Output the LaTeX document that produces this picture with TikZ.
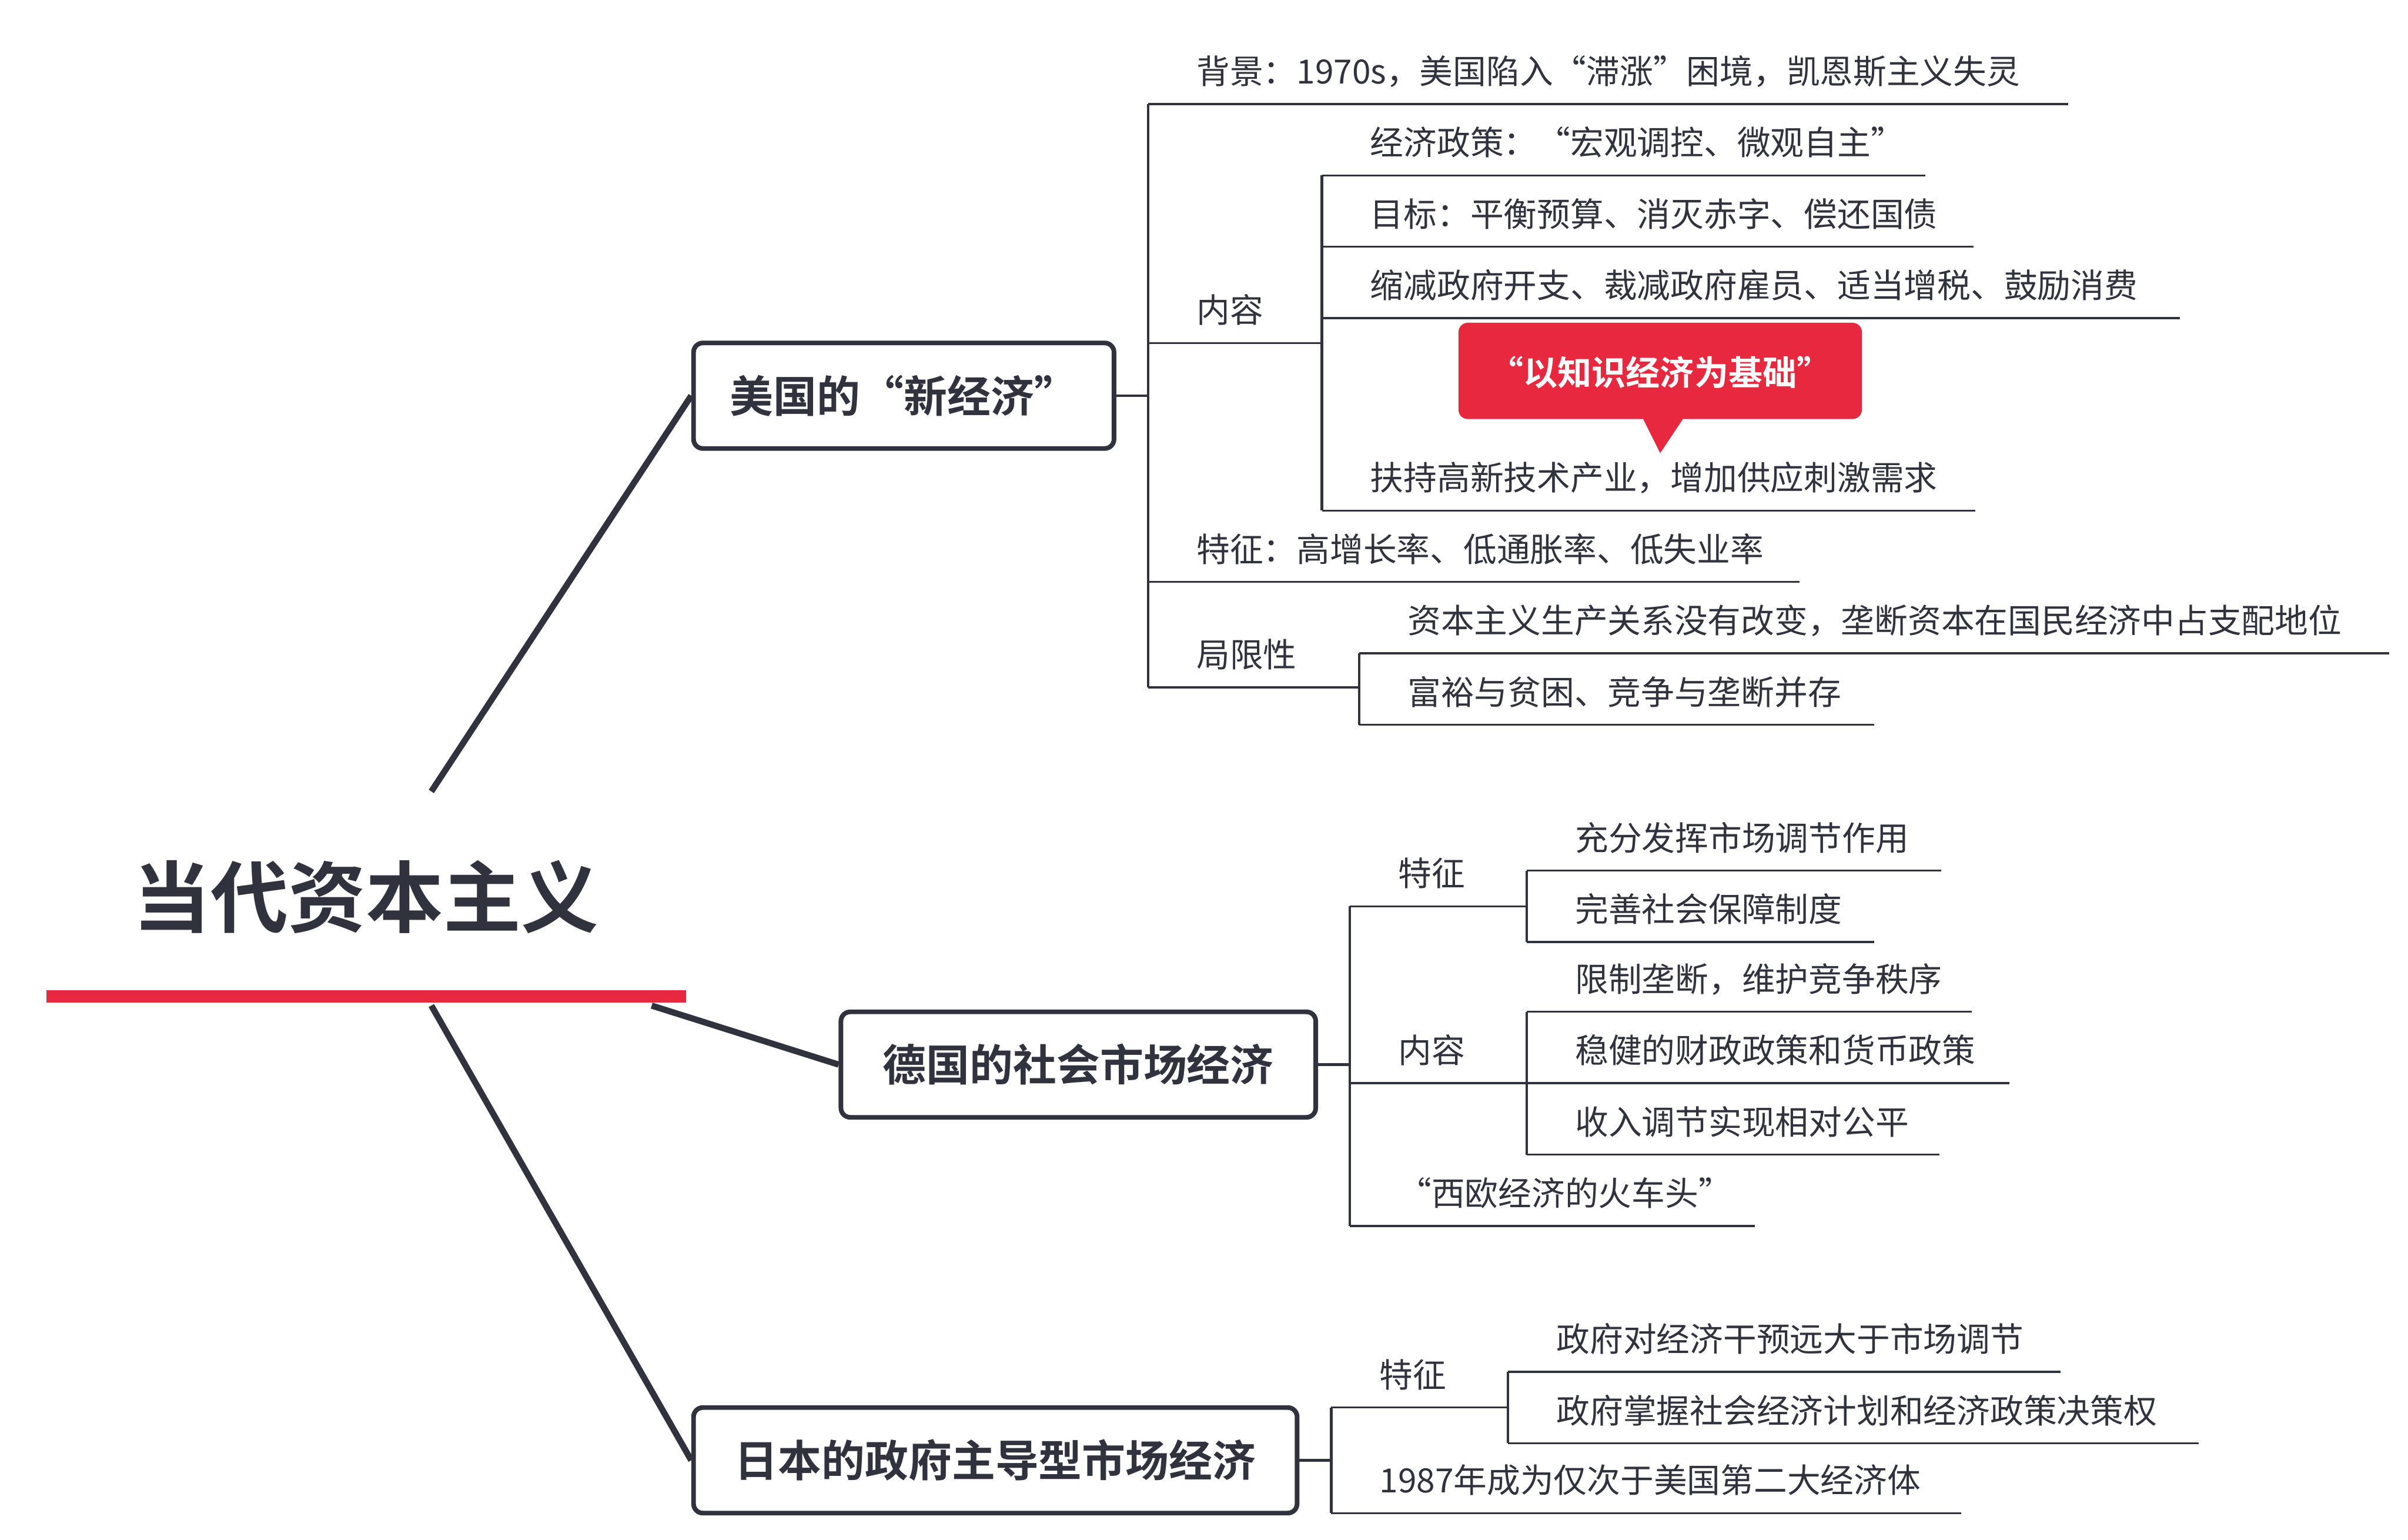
\documentclass[tikz,border=0pt]{standalone}
\usepackage{fontspec}
\setmainfont{Noto Sans CJK SC}
\newfontfamily\cjkb{Noto Sans CJK SC Bold}
\definecolor{ink}{HTML}{30323E}
\definecolor{hot}{HTML}{E8283F}
\tikzset{
 item/.style={anchor=base west,inner sep=0pt,font=\fontsize{21.5}{21.5}\selectfont,text=ink},
 uline/.style={draw=ink,line width=1.3pt},
 trunk/.style={draw=ink,line width=1.6pt,rounded corners=4pt},
 branch/.style={draw=ink,line width=4pt},
 bigbox/.style={draw=ink,line width=3pt,rounded corners=6pt,minimum height=68pt,text=ink,font=\cjkb\fontsize{28}{28}\selectfont}
}
\begin{document}
\begin{tikzpicture}[x=1pt,y=-1pt]
\path[use as bounding box,fill=white] (0,0) rectangle (1552,992);
% root
\node[text=ink,font=\cjkb\fontsize{50}{50}\selectfont] (root) at (236,578) {当代资本主义};
\coordinate (rl) at (30,642); \coordinate (rr) at (442,642);
\draw[hot,line width=8pt] (rl) -- (rr);
% boxes
\node[bigbox,minimum width=271pt] (us) at (582.5,255) {美国的“新经济”};
\node[bigbox,minimum width=306pt] (de) at (695,686) {德国的社会市场经济};
\node[bigbox,minimum width=389pt] (jp) at (641.5,941) {日本的政府主导型市场经济};
\coordinate (b1) at (278,510); \coordinate (b2) at (420,648); \coordinate (b3) at (278,648);
\draw[branch] (b1) -- (us.west);
\draw[branch] (b2) -- (de.west);
\draw[branch] (b3) -- (jp.west);
% US
\draw[trunk] (us.east) -- (740,255);
\draw[trunk] (740,67) -- (740,443);
\draw[trunk] (852,113) -- (852,329);
\draw[trunk] (876,421) -- (876,467);
\foreach \x/\y/\e/\t in {740/67/1333/{背景：1970s，美国陷入“滞涨”困境，凯恩斯主义失灵},
 740/221/852/{内容},
 852/113/1241/{经济政策：“宏观调控、微观自主”},
 852/159/1272/{目标：平衡预算、消灭赤字、偿还国债},
 852/205/1405/{缩减政府开支、裁减政府雇员、适当增税、鼓励消费},
 852/329/1273/{扶持高新技术产业，增加供应刺激需求},
 740/375/1160/{特征：高增长率、低通胀率、低失业率},
 740/443/876/{局限性},
 876/421/1540/{资本主义生产关系没有改变，垄断资本在国民经济中占支配地位},
 876/467/1208/{富裕与贫困、竞争与垄断并存},
 870/584/984/{特征},
 984/561/1251/{充分发挥市场调节作用},
 984/607/1208/{完善社会保障制度},
 870/698/984/{内容},
 984/652/1271/{限制垄断，维护竞争秩序},
 984/698/1295/{稳健的财政政策和货币政策},
 984/744/1250/{收入调节实现相对公平},
 870/790/1131/{“西欧经济的火车头”},
 858/907/972/{特征},
 972/884/1328/{政府对经济干预远大于市场调节},
 972/930/1417/{政府掌握社会经济计划和经济政策决策权},
 858/975/1264/{1987年成为仅次于美国第二大经济体}}
 {\node[item] at (\x+31,\y-13) {\t};
  \draw[uline] (\x,\y) -- (\e,\y);}
% callout
\fill[hot,rounded corners=6pt] (940,208) rectangle (1200,270);
\fill[hot] (1058,268) -- (1070,292) -- (1086,268) -- cycle;
\node[text=white,font=\cjkb\fontsize{22}{22}\selectfont] (call) at (1070,240) {“以知识经济为基础”};
% DE
\draw[trunk] (de.east) -- (870,686);
\draw[trunk] (870,584) -- (870,790);
\draw[trunk] (984,561) -- (984,607);
\draw[trunk] (984,652) -- (984,744);
% JP
\draw[trunk] (jp.east) -- (858,941);
\draw[trunk] (858,907) -- (858,975);
\draw[trunk] (972,884) -- (972,930);
\end{tikzpicture}
\end{document}
